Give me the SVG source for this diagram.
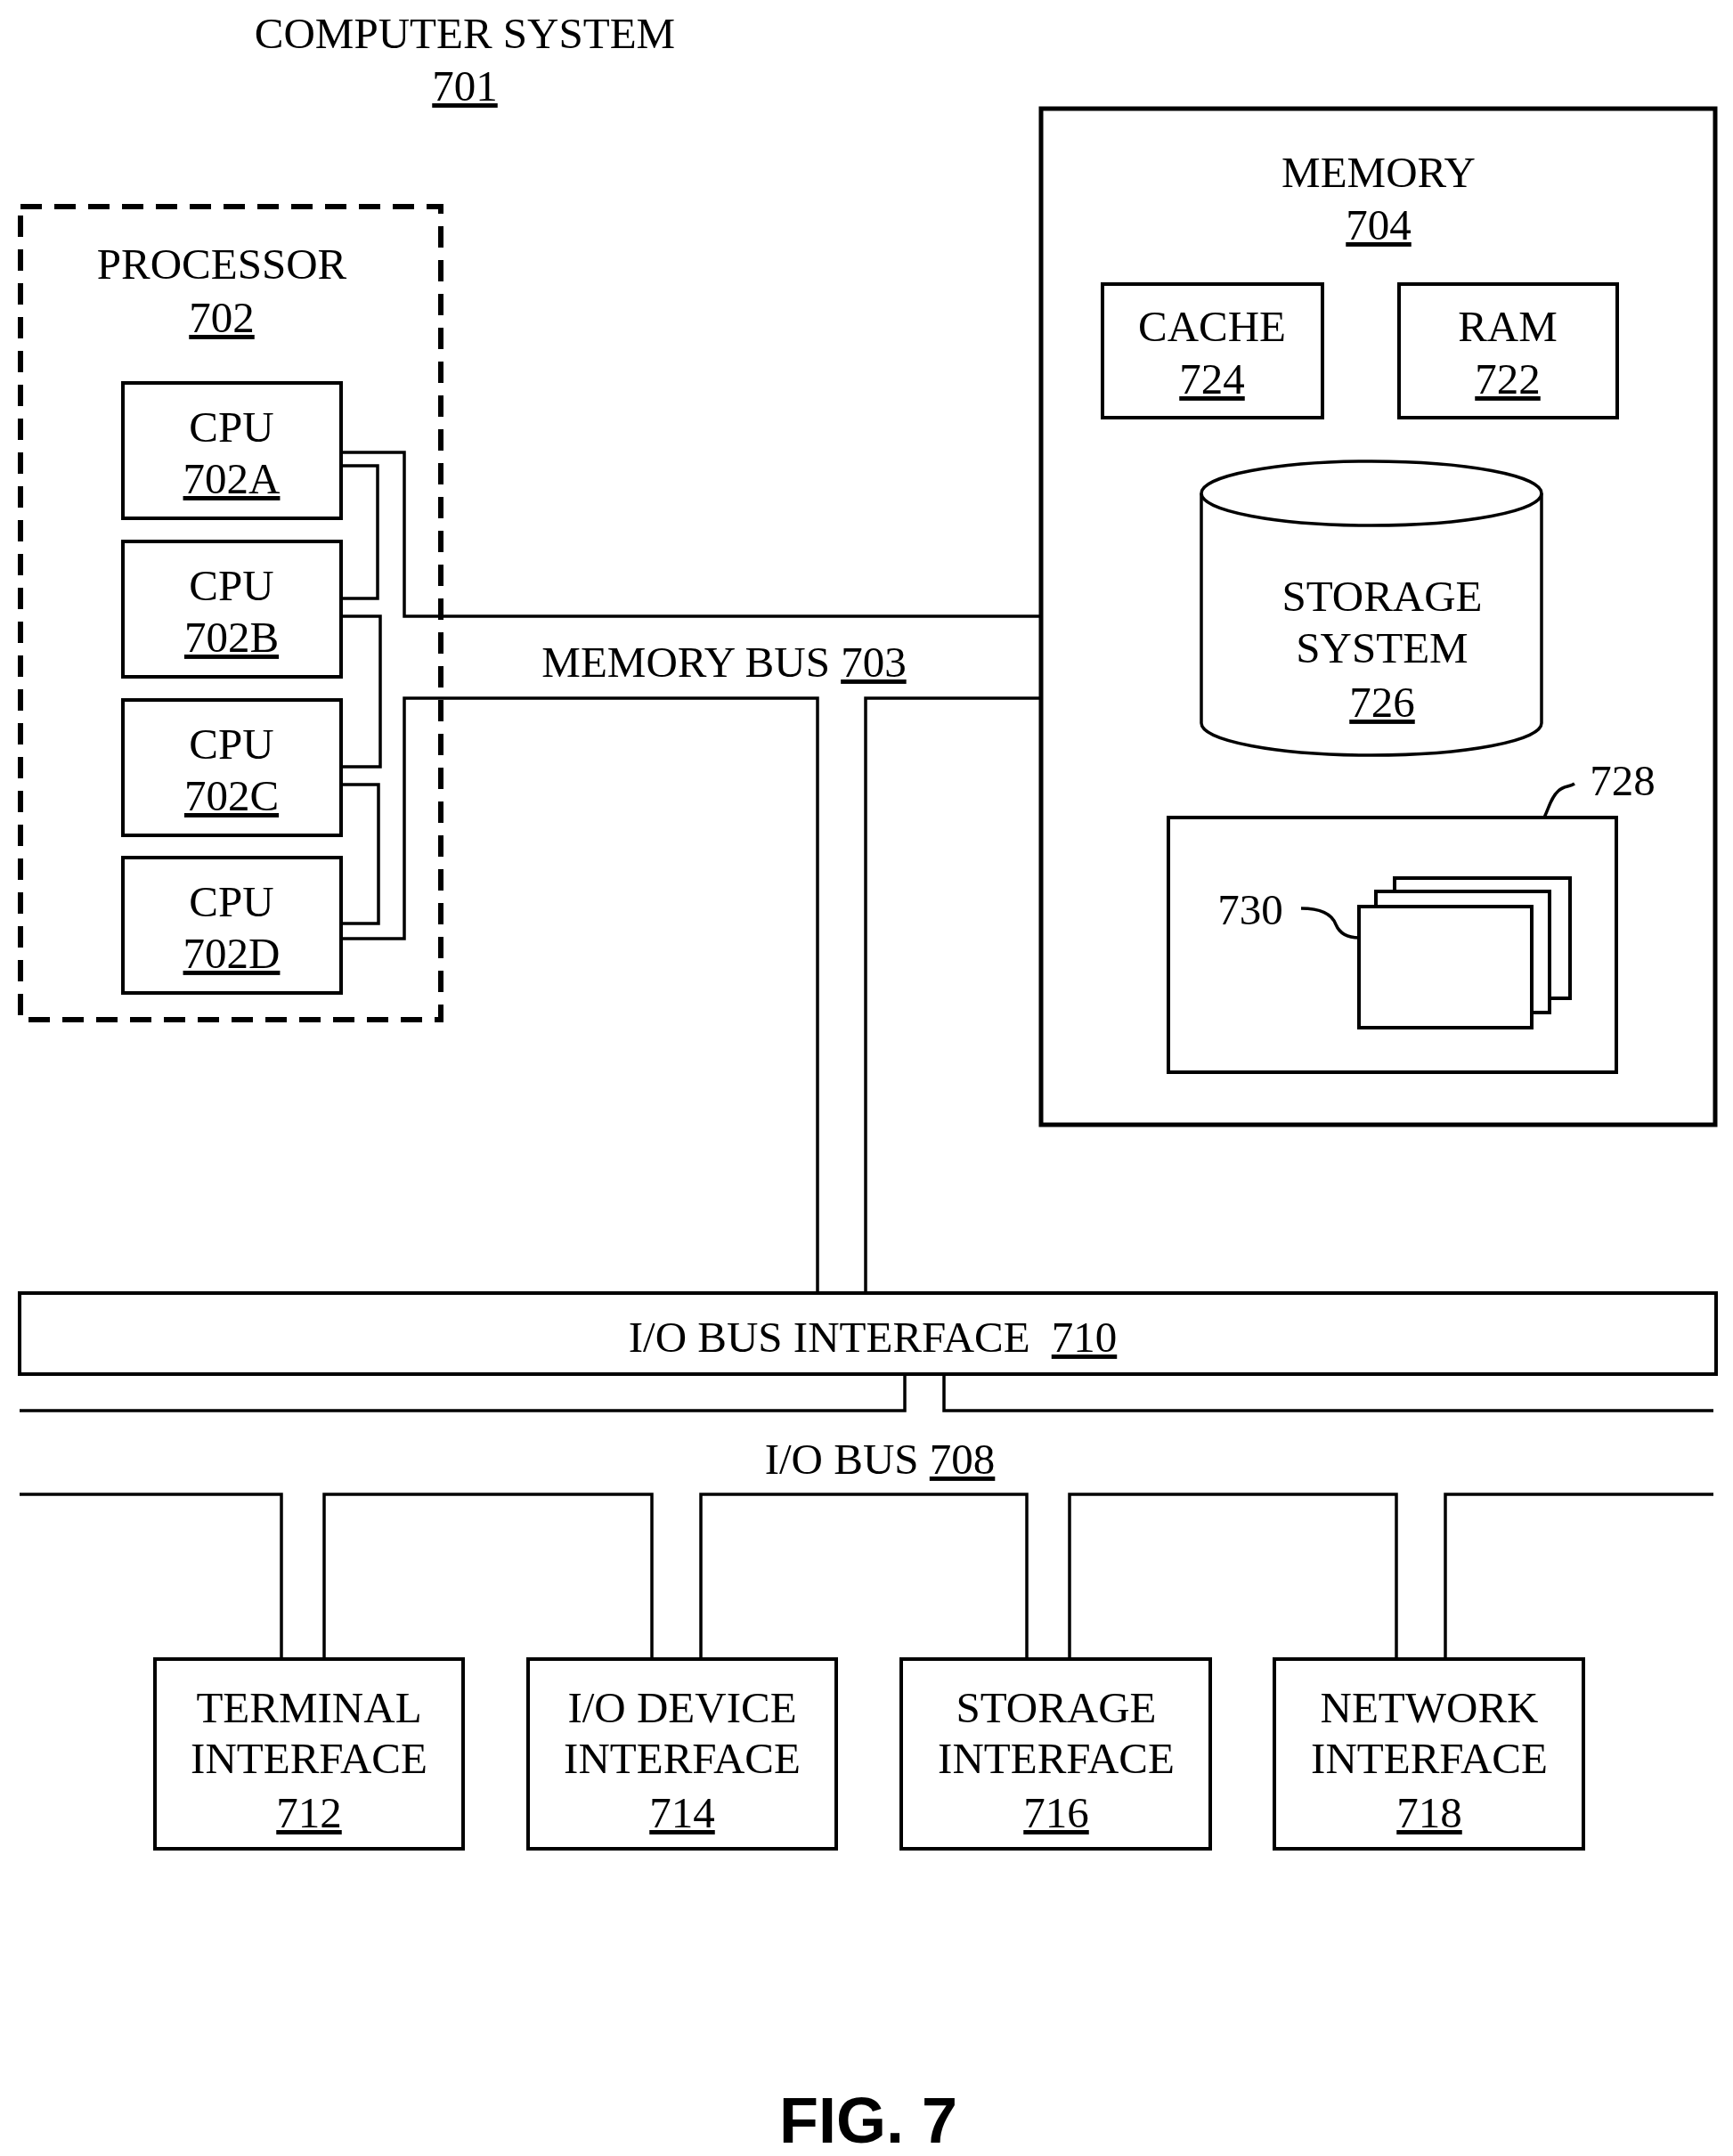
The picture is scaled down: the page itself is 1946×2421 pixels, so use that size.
<svg xmlns="http://www.w3.org/2000/svg" width="1946" height="2421" viewBox="0 0 1946 2421">
<style>
text{font-family:"Liberation Serif","Times New Roman",serif;font-size:49px;fill:#000;text-anchor:middle}
.u{text-decoration:underline}
.box{fill:#fff;stroke:#000;stroke-width:4}
.ln{fill:none;stroke:#000;stroke-width:3.5}
.fig{font-family:"Liberation Sans",Arial,sans-serif;font-weight:bold;font-size:72px}
</style>
<rect width="1946" height="2421" fill="#fff"/>
<g id="title"><text x="522" y="54">COMPUTER SYSTEM</text><text x="522" y="113" class="u">701</text></g>
<g id="connectors">
<polyline class="ln" points="383,508 454,508 454,692 1169,692"/>
<polyline class="ln" points="383,523 424,523 424,672 383,672"/>
<polyline class="ln" points="383,692 427,692 427,861 383,861"/>
<polyline class="ln" points="383,881 425,881 425,1037 383,1037"/>
<polyline class="ln" points="383,1054 454,1054 454,784 918,784 918,1452"/>
<polyline class="ln" points="1169,784 972,784 972,1452"/>
<polyline class="ln" points="22,1584 1016,1584 1016,1543"/>
<polyline class="ln" points="1060,1543 1060,1584 1924,1584"/>
<polyline class="ln" points="22,1678 316,1678 316,1863"/>
<polyline class="ln" points="364,1863 364,1678 732,1678 732,1863"/>
<polyline class="ln" points="787,1863 787,1678 1153,1678 1153,1863"/>
<polyline class="ln" points="1201,1863 1201,1678 1568,1678 1568,1863"/>
<polyline class="ln" points="1623,1863 1623,1678 1924,1678"/>
<text x="813" y="760">MEMORY BUS <tspan class="u">703</tspan></text>
<text x="988" y="1655">I/O BUS <tspan class="u">708</tspan></text>
</g>
<g id="processor">
<rect x="23" y="232" width="472" height="913" fill="none" stroke="#000" stroke-width="6" stroke-dasharray="24,14"/>
<text x="249" y="313">PROCESSOR</text><text x="249" y="373" class="u">702</text>
</g>
<g id="cpu702A"><rect class="box" x="138" y="430" width="245" height="152"/><text x="260" y="496">CPU</text><text x="260" y="554" class="u">702A</text></g>
<g id="cpu702B"><rect class="box" x="138" y="608" width="245" height="152"/><text x="260" y="674">CPU</text><text x="260" y="732" class="u">702B</text></g>
<g id="cpu702C"><rect class="box" x="138" y="786" width="245" height="152"/><text x="260" y="852">CPU</text><text x="260" y="910" class="u">702C</text></g>
<g id="cpu702D"><rect class="box" x="138" y="963" width="245" height="152"/><text x="260" y="1029">CPU</text><text x="260" y="1087" class="u">702D</text></g>
<g id="memory">
<rect x="1169" y="122" width="757" height="1141" fill="none" stroke="#000" stroke-width="5"/>
<text x="1548" y="210">MEMORY</text><text x="1548" y="269" class="u">704</text>
</g>
<g id="cache"><rect class="box" x="1238" y="319" width="247" height="150"/><text x="1361" y="383">CACHE</text><text x="1361" y="442" class="u">724</text></g>
<g id="ram"><rect class="box" x="1571" y="319" width="245" height="150"/><text x="1693" y="383">RAM</text><text x="1693" y="442" class="u">722</text></g>
<g id="storage">
<path d="M1349,554 L1349,812 A191,36 0 0 0 1731,812 L1731,554" fill="#fff" stroke="#000" stroke-width="3.5"/>
<ellipse cx="1540" cy="554" rx="191" ry="36" fill="#fff" stroke="#000" stroke-width="3.5"/>
<text x="1552" y="686">STORAGE</text><text x="1552" y="744">SYSTEM</text><text x="1552" y="805" class="u">726</text>
</g>
<g id="box728">
<rect class="box" x="1312" y="918" width="503" height="286"/>
<path d="M1734,918 C1740,905 1742,895 1750,888 C1756,882 1762,884 1768,880" class="ln" stroke-width="2"/>
<text x="1822" y="893">728</text>
</g>
<g id="stack730">
<rect class="box" x="1566" y="986" width="197" height="135"/>
<rect class="box" x="1545" y="1001" width="195" height="136"/>
<rect class="box" x="1526" y="1018" width="194" height="136"/>
<path d="M1461,1020 C1480,1020 1495,1025 1500,1038 C1505,1050 1515,1053 1526,1053" class="ln" stroke-width="2"/>
<text x="1404" y="1038">730</text>
</g>
<g id="iobusif"><rect class="box" x="22" y="1452" width="1905" height="91"/><text x="980" y="1518">I/O BUS INTERFACE<tspan dx="24" class="u">710</tspan></text></g>
<g id="term712"><rect class="box" x="174" y="1863" width="346" height="213"/><text x="347" y="1934">TERMINAL</text><text x="347" y="1991">INTERFACE</text><text x="347" y="2052" class="u">712</text></g>
<g id="iodev714"><rect class="box" x="593" y="1863" width="346" height="213"/><text x="766" y="1934">I/O DEVICE</text><text x="766" y="1991">INTERFACE</text><text x="766" y="2052" class="u">714</text></g>
<g id="stor716"><rect class="box" x="1012" y="1863" width="347" height="213"/><text x="1186" y="1934">STORAGE</text><text x="1186" y="1991">INTERFACE</text><text x="1186" y="2052" class="u">716</text></g>
<g id="net718"><rect class="box" x="1431" y="1863" width="347" height="213"/><text x="1605" y="1934">NETWORK</text><text x="1605" y="1991">INTERFACE</text><text x="1605" y="2052" class="u">718</text></g>
<text class="fig" x="975" y="2406">FIG. 7</text>
</svg>
